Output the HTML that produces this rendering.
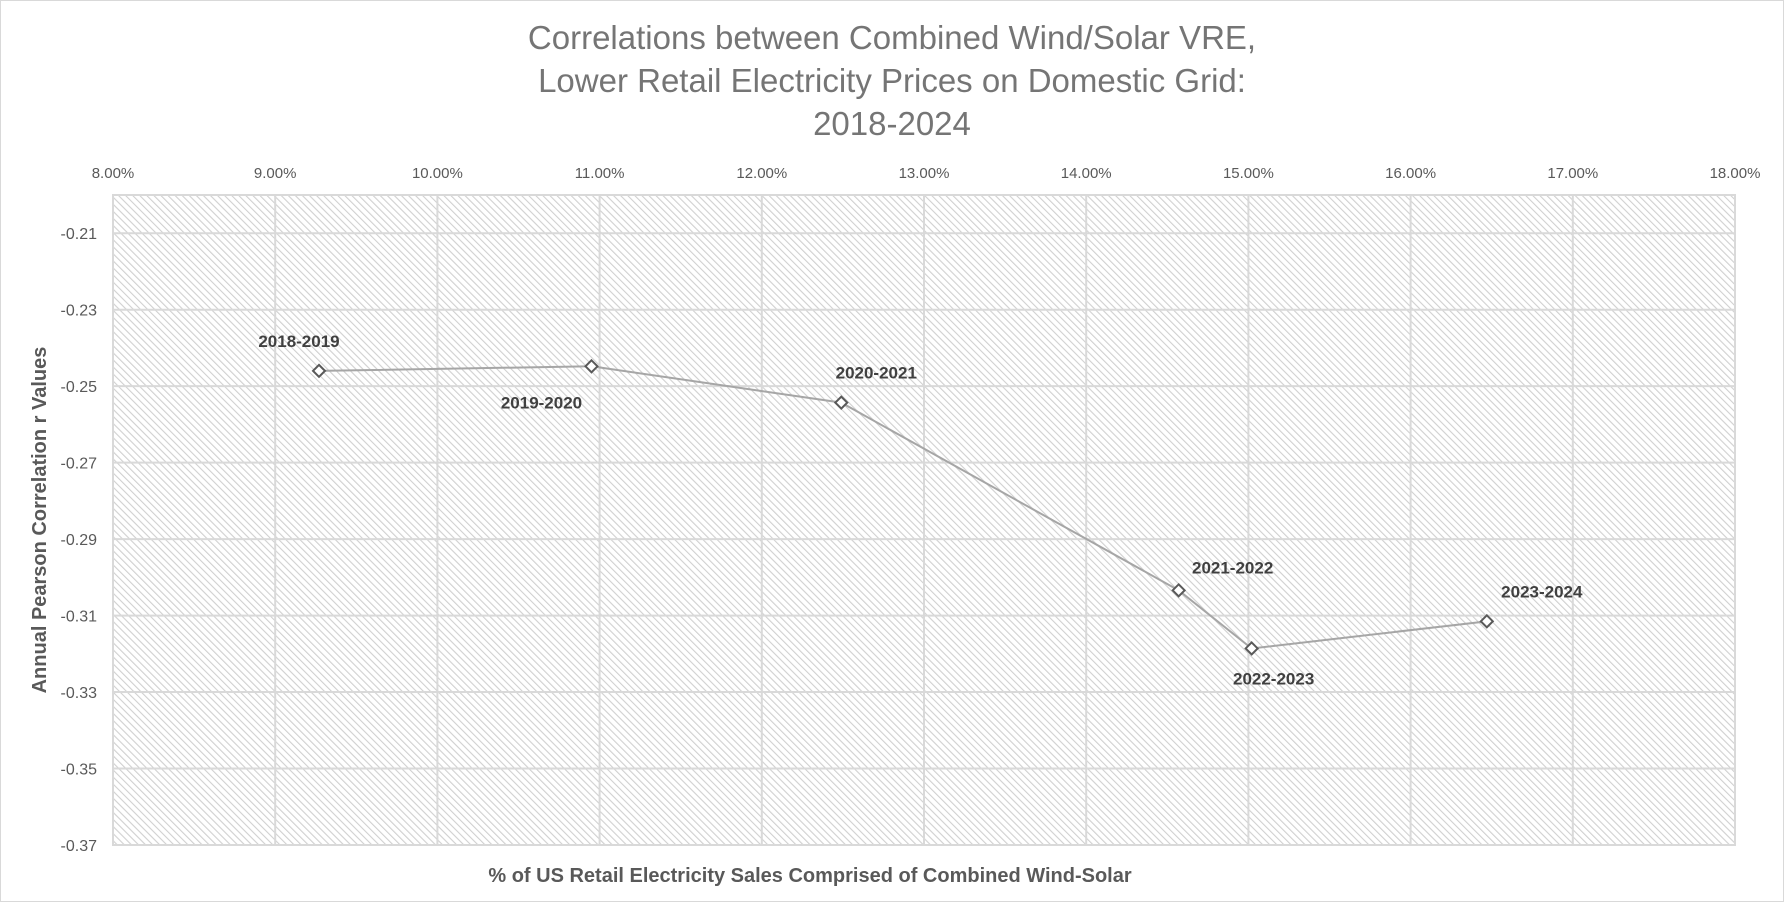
<!DOCTYPE html>
<html><head><meta charset="utf-8">
<style>
html,body{margin:0;padding:0;background:#fff;}
body{width:1784px;height:902px;overflow:hidden;font-family:"Liberation Sans",sans-serif;}
svg{display:block;}
</style></head>
<body>
<svg id="chart" width="1784" height="902" xmlns="http://www.w3.org/2000/svg">
<defs>
<pattern id="hatch" patternUnits="userSpaceOnUse" width="5" height="5" patternTransform="rotate(-45)">
<rect width="5" height="5" fill="#fff"/>
<line x1="0" y1="0" x2="0" y2="5" stroke="#d0d0d0" stroke-width="2.2"/>
</pattern>
</defs>
<rect x="0.5" y="0.5" width="1783" height="901" fill="#fff" stroke="#d9d9d9"/>
<g fill="#757575" font-size="33" text-anchor="middle">
<text x="892" y="49">Correlations between Combined Wind/Solar VRE,</text>
<text x="892" y="92">Lower Retail Electricity Prices on Domestic Grid:</text>
<text x="892" y="135">2018-2024</text>
</g>
<rect x="113" y="195" width="1622" height="650" fill="url(#hatch)"/>
<g id="grid"></g>
<g id="xticks" fill="#595959" font-size="15" text-anchor="middle"></g>
<g id="yticks" fill="#595959" font-size="16" text-anchor="end"></g>
<g id="series"></g>
<text transform="translate(46,520) rotate(-90)" text-anchor="middle" font-size="20" font-weight="bold" fill="#595959">Annual Pearson Correlation r Values</text>
<text x="810" y="882" text-anchor="middle" font-size="20" font-weight="bold" fill="#595959">% of US Retail Electricity Sales Comprised of Combined Wind-Solar</text>
</svg>
<script>
const periods = ["2018-2019","2019-2020","2020-2021","2021-2022","2022-2023","2023-2024"];
const sharePct = [9.27, 10.95, 12.49, 14.57, 15.02, 16.47];
const rValues = [-0.2460, -0.2448, -0.2543, -0.3034, -0.3186, -0.3115];
const xTickValues = [8,9,10,11,12,13,14,15,16,17,18];
const yTickValues = [-0.21,-0.23,-0.25,-0.27,-0.29,-0.31,-0.33,-0.35,-0.37];
const labelDx = [-20,-50,35,54,22,55];
const labelDy = [-24,42,-24,-17,36,-24];

const L=113,R=1735,T=195,B=845,XMIN=8,XMAX=18,YMIN=-0.37,YMAX=-0.20;
const sx=v=>L+(v-XMIN)/(XMAX-XMIN)*(R-L);
const sy=v=>B-(v-YMIN)/(YMAX-YMIN)*(B-T);
const NS="http://www.w3.org/2000/svg";
function mk(tag,attrs,parent,text){const e=document.createElementNS(NS,tag);for(const k in attrs)e.setAttribute(k,attrs[k]);if(text!==undefined)e.textContent=text;parent.appendChild(e);return e;}
const grid=document.getElementById('grid');
xTickValues.forEach(v=>{
  const l=mk('line',{x1:sx(v),x2:sx(v),y1:T,y2:B,stroke:'#d9d9d9','stroke-width':2},grid);
  
  
  const t=mk('text',{x:sx(v),y:178},document.getElementById('xticks'),v.toFixed(2)+'%');
  
  
});
yTickValues.forEach(v=>{
  const l=mk('line',{x1:L,x2:R,y1:sy(v),y2:sy(v),stroke:'#d9d9d9','stroke-width':2},grid);
  
  
  const t=mk('text',{x:97,y:sy(v)+6},document.getElementById('yticks'),v.toFixed(2));
  
  
});
const b=mk('rect',{x:L,y:T,width:R-L,height:B-T,fill:'none',stroke:'#d9d9d9','stroke-width':2},grid);


const s=document.getElementById('series');
const pts=sharePct.map((v,i)=>sx(v)+','+sy(rValues[i])).join(' ');
const pl=mk('polyline',{points:pts,fill:'none',stroke:'#a6a6a6','stroke-width':2},s);


sharePct.forEach((v,i)=>{
  const x=sx(v),y=sy(rValues[i]);
  const m=mk('polygon',{points:`${x},${y-6} ${x+6},${y} ${x},${y+6} ${x-6},${y}`,fill:'#fff',stroke:'#595959','stroke-width':2},s);
  
  
  const t=mk('text',{x:x+labelDx[i],y:y+labelDy[i],'text-anchor':'middle','font-size':17,'font-weight':'bold',fill:'#404040'},s,periods[i]);
  
  
});
</script>
</body></html>
